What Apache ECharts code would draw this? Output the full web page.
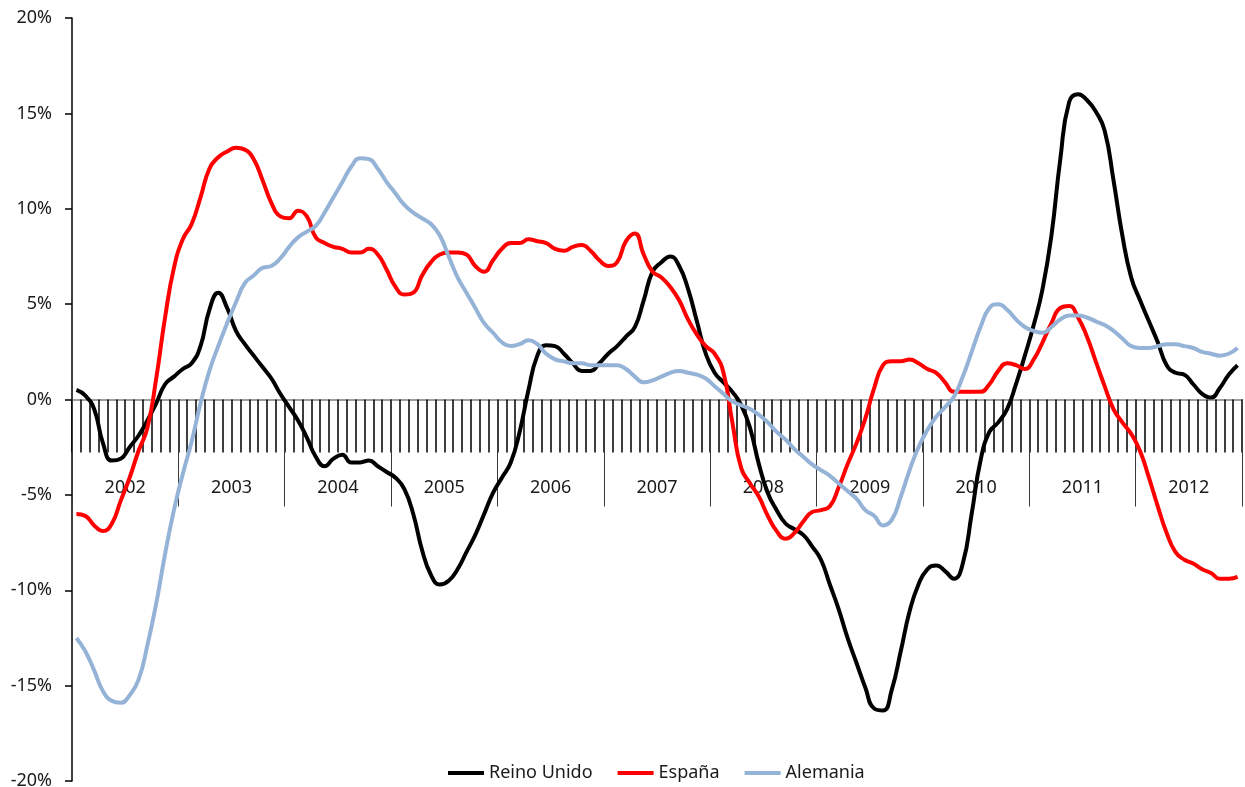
<!DOCTYPE html>
<html lang="es">
<head>
<meta charset="utf-8">
<title>Reino Unido, España, Alemania</title>
<script src="https://cdn.jsdelivr.net/npm/echarts@6/dist/echarts.min.js"></script>
<style>
  html, body { margin: 0; padding: 0; background: #fff; }
  #chart { width: 1245px; height: 787px; }
</style>
</head>
<body>
<div id="chart"></div>
<script>
const years = ['2002', '2003', '2004', '2005', '2006', '2007', '2008', '2009', '2010', '2011', '2012']

// variación interanual (%), un valor por mes, una fila por año
const reinoUnido = [
  0.5, 0.2, -0.5, -2.3, -3.2, -3.1, -2.5, -1.9, -1.1, -0.2, 0.8, 1.2,
  1.6, 1.9, 2.8, 4.7, 5.6, 4.8, 3.6, 2.9, 2.3, 1.7, 1.1, 0.3,
  -0.4, -1.1, -2.0, -3.0, -3.5, -3.1, -2.9, -3.3, -3.3, -3.2, -3.5, -3.8,
  -4.1, -4.7, -6.0, -7.9, -9.2, -9.7, -9.5, -8.9, -8.0, -7.1, -6.0, -4.9,
  -4.1, -3.3, -1.7, 0.5, 2.3, 2.85, 2.8, 2.4, 1.9, 1.5, 1.5, 1.9,
  2.4, 2.8, 3.3, 3.8, 5.2, 6.7, 7.2, 7.5, 7.0, 5.8, 4.1, 2.4,
  1.4, 0.9, 0.4, -0.3, -1.5, -3.4, -4.9, -5.8, -6.5, -6.8, -7.1, -7.7,
  -8.4, -9.7, -11.0, -12.5, -13.8, -15.1, -16.2, -16.3, -15.2, -13.2, -11.1, -9.7,
  -8.9, -8.7, -9.0, -9.4, -8.6, -6.0, -3.2, -1.7, -1.2, -0.5, 0.8, 2.3,
  3.9, 5.8, 8.6, 12.6, 15.6, 16.0, 15.7, 15.1, 14.1, 11.5, 8.6, 6.4,
  5.2, 4.1, 3.0, 1.8, 1.4, 1.3, 0.8, 0.3, 0.1, 0.6, 1.3, 1.8
]

const espana = [
  -6.0, -6.1, -6.6, -6.9, -6.5, -5.3, -4.1, -2.7, -1.5, 1.1, 4.3, 6.9,
  8.4, 9.2, 10.6, 12.1, 12.7, 13.0, 13.2, 13.1, 12.6, 11.5, 10.3, 9.6,
  9.5, 9.9, 9.6, 8.5, 8.2, 8.0, 7.9, 7.7, 7.7, 7.9, 7.6, 6.8,
  5.9, 5.5, 5.6, 6.5, 7.2, 7.6, 7.7, 7.7, 7.6, 7.0, 6.7, 7.3,
  7.9, 8.2, 8.2, 8.4, 8.3, 8.2, 7.9, 7.8, 8.0, 8.1, 7.8, 7.3,
  7.0, 7.2, 8.3, 8.7, 7.6, 6.7, 6.4, 5.9, 5.2, 4.2, 3.4, 2.8,
  2.4, 1.4, -1.2, -3.6, -4.4, -5.1, -6.1, -6.9, -7.3, -7.0, -6.4, -5.9,
  -5.8, -5.6, -4.6, -3.4, -2.3, -1.0, 0.6, 1.8, 2.0, 2.0, 2.1, 1.9,
  1.6, 1.4, 0.9, 0.4, 0.4, 0.4, 0.4, 0.8, 1.5, 1.9, 1.8, 1.6,
  2.1, 3.0, 4.0, 4.8, 4.9, 4.3, 3.3, 2.0, 0.7, -0.5, -1.2, -1.8,
  -2.7, -4.1, -5.6, -7.0, -8.0, -8.4, -8.6, -8.9, -9.1, -9.4, -9.4, -9.3
]

const alemania = [
  -12.5, -13.2, -14.2, -15.3, -15.8, -15.9, -15.5, -14.7, -12.9, -10.7, -8.1, -5.8,
  -3.9, -2.2, -0.2, 1.5, 2.8, 4.0, 5.1, 6.1, 6.5, 6.9, 7.0, 7.4,
  8.0, 8.5, 8.8, 9.1, 9.8, 10.6, 11.4, 12.2, 12.65, 12.6, 12.1, 11.4,
  10.8, 10.2, 9.8, 9.5, 9.2, 8.6, 7.5, 6.4, 5.6, 4.8, 4.0, 3.5,
  3.0, 2.8, 2.9, 3.1, 2.9, 2.4, 2.1, 2.0, 1.9, 1.9, 1.8, 1.8,
  1.8, 1.8, 1.6, 1.2, 0.9, 1.0, 1.2, 1.4, 1.5, 1.4, 1.3, 1.1,
  0.7, 0.3, -0.1, -0.3, -0.5, -0.8, -1.2, -1.7, -2.1, -2.6, -3.0, -3.4,
  -3.7, -4.0, -4.4, -4.8, -5.2, -5.8, -6.1, -6.6, -6.3, -5.1, -3.7, -2.5,
  -1.6, -0.9, -0.4, 0.15, 1.2, 2.5, 3.8, 4.8, 5.0, 4.7, 4.2, 3.8,
  3.6, 3.5, 3.8, 4.2, 4.4, 4.4, 4.3, 4.1, 3.9, 3.6, 3.2, 2.8,
  2.7, 2.7, 2.8, 2.9, 2.9, 2.8, 2.7, 2.5, 2.4, 2.3, 2.4, 2.7
]

const months = []
years.forEach((y) => {
  for (let m = 1; m <= 12; m++) months.push(`${m}/${y}`)
})

const FONT = 'Noto Sans'
const TEXT = '#1a1a1a'

const GRID_TOP = 18
const GRID_BOTTOM = 6
const CHART_H = 787
// distancia del borde inferior del grid a la línea del 0 %
const plotH = CHART_H - GRID_TOP - GRID_BOTTOM
const zeroOffset = -plotH / 2

const chart = echarts.init(document.getElementById('chart'))

const option = {
  animation: false,
  backgroundColor: '#fff',
  textStyle: { fontFamily: FONT },
  grid: {
    left: 72,
    right: 3,
    top: GRID_TOP,
    bottom: GRID_BOTTOM,
    containLabel: false,
    outerBoundsMode: 'none',
  },
  legend: {
    bottom: 0,
    // centrada sobre el área de trazado, no sobre el lienzo
    left: 443,
    icon: 'rect',
    itemWidth: 36,
    itemHeight: 4,
    itemGap: 25,
    textStyle: { color: TEXT, fontSize: 18, fontFamily: FONT },
    data: ['Reino Unido', 'España', 'Alemania'],
  },
  xAxis: [
    {
      // meses: marcas cortas
      type: 'category',
      data: months,
      boundaryGap: true,
      position: 'bottom',
      axisLine: {
        onZero: true,
        onZeroAxisIndex: 0,
        lineStyle: { color: '#808080', width: 1.5 },
      },
      axisTick: {
        show: true,
        interval: 0,
        length: 53,
        lineStyle: { color: '#000', width: 1.5 },
      },
      axisLabel: { show: false },
      splitLine: { show: false },
    },
    {
      // años: separadores largos y etiquetas
      type: 'category',
      data: years,
      boundaryGap: true,
      position: 'bottom',
      offset: zeroOffset,
      axisLine: { onZero: false, show: false },
      axisTick: {
        show: true,
        interval: 0,
        length: 107,
        lineStyle: { color: '#3a3a3a', width: 1 },
      },
      axisLabel: {
        interval: 0,
        margin: 79,
        color: TEXT,
        fontSize: 18,
        fontFamily: FONT,
      },
      splitLine: { show: false },
    },
  ],
  yAxis: {
    type: 'value',
    min: -20,
    max: 20,
    interval: 5,
    axisLine: { show: true, lineStyle: { color: '#000', width: 1.5 } },
    axisTick: { show: true, length: 7, lineStyle: { color: '#000', width: 1.5 } },
    axisLabel: {
      formatter: '{value}%',
      margin: 20,
      color: TEXT,
      fontSize: 18,
      fontFamily: FONT,
    },
    splitLine: { show: false },
  },
  series: [
    {
      name: 'Reino Unido',
      type: 'line',
      xAxisIndex: 0,
      data: reinoUnido,
      smooth: true,
      symbol: 'none',
      lineStyle: { color: '#000000', width: 4 },
      itemStyle: { color: '#000000' },
    },
    {
      name: 'España',
      type: 'line',
      xAxisIndex: 0,
      data: espana,
      smooth: true,
      symbol: 'none',
      lineStyle: { color: '#ff0000', width: 4 },
      itemStyle: { color: '#ff0000' },
    },
    {
      name: 'Alemania',
      type: 'line',
      xAxisIndex: 0,
      data: alemania,
      smooth: true,
      symbol: 'none',
      lineStyle: { color: '#95b3d7', width: 4 },
      itemStyle: { color: '#95b3d7' },
    },
  ],
}

chart.setOption(option)
window.addEventListener('resize', () => chart.resize())
</script>
</body>
</html>
